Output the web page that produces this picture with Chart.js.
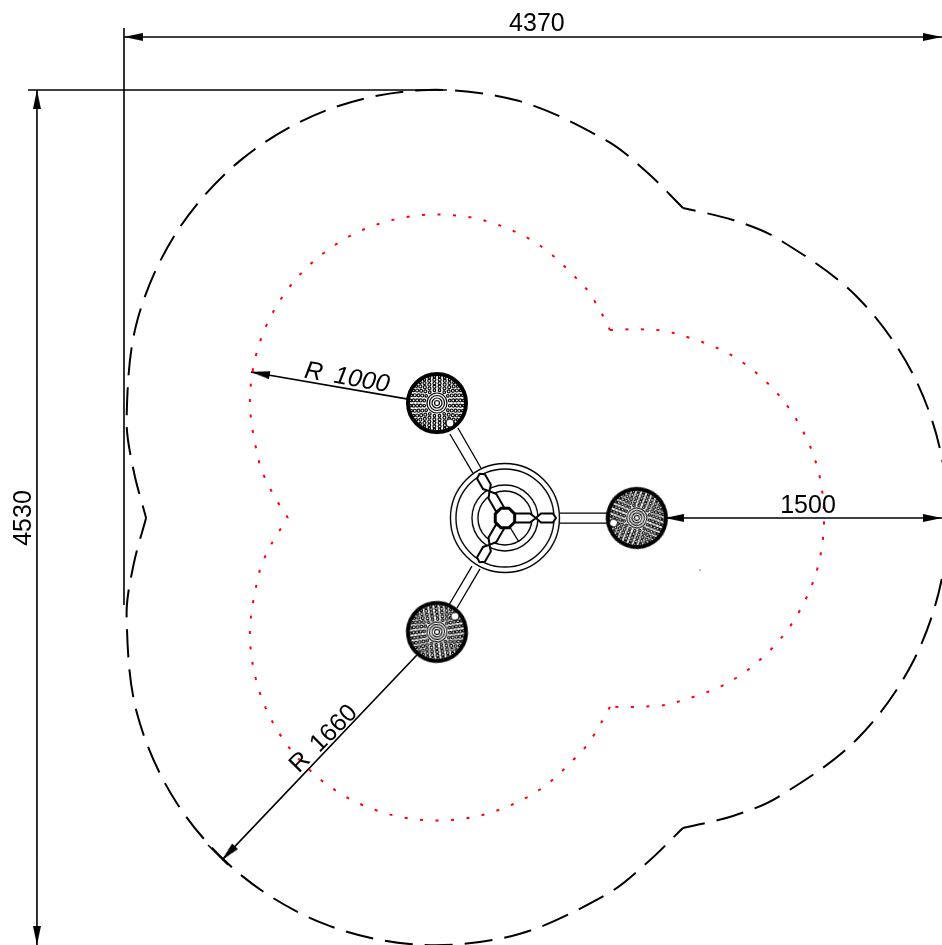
<!DOCTYPE html>
<html>
<head>
<meta charset="utf-8">
<title>Plano</title>
<script src="https://cdn.jsdelivr.net/npm/chart.js@4"></script>
<style>
  html, body { margin: 0; padding: 0; background: #fff; overflow: hidden; }
  canvas { display: block; }
</style>
</head>
<body>
<canvas id="plano" width="942" height="945"></canvas>
<script>
// All values in mm

// Outer limit (R 1660), one arc per head
const outerArcAX = [118, 51, 14, 69, 280, 627, 1077, 1585, 2102, 2576, 2791, 2986];
const outerArcAY = [2263, 2516, 2785, 3302, 3776, 4162, 4422, 4530, 4475, 4264, 4098, 3906];
const outerArcCX = [2986, 3253, 3494, 3914, 4219, 4380, 4380, 4219, 3914, 3494, 3253, 2986];
const outerArcCY = [3906, 3842, 3742, 3437, 3017, 2523, 2003, 1509, 1089, 784, 684, 620];
const outerArcBX = [2986, 2791, 2576, 2102, 1585, 1077, 627, 280, 69, 14, 51, 118];
const outerArcBY = [620, 433, 267, 56, 1, 109, 369, 755, 1229, 1746, 2015, 2263];

// Inner limit (R 1000)
const innerArcAX = [876, 789, 721, 673, 745, 929, 1203, 1533, 1880, 2202, 2460, 2538, 2596];
const innerArcAY = [2263, 2403, 2563, 2907, 3247, 3541, 3755, 3862, 3850, 3720, 3488, 3372, 3259];
const innerArcCX = [2596, 2764, 2931, 3255, 3517, 3686, 3740, 3686, 3517, 3255, 2931, 2764, 2596];
const innerArcCY = [3259, 3263, 3245, 3120, 2892, 2589, 2263, 1937, 1634, 1406, 1281, 1263, 1262];
const innerArcBX = [2596, 2538, 2460, 2202, 1880, 1533, 1203, 929, 745, 673, 721, 789, 876];
const innerArcBY = [1262, 1159, 1043, 811, 681, 669, 776, 990, 1284, 1624, 1968, 2128, 2263];

// Dimension and extension lines, null breaks the line
const dimLinesX = [0, 4370, null, -465, -465, null, 2890, 4370, null, 1517, 678, null, 1565, 523, null, 449, 556];
const dimLinesY = [4812, 4812, null, 4531, 0, null, 2263, 2263, null, 2893, 3037, null, 1537, 450, null, 530, 424];
const extLinesX = [-513, 1725, null, 0, 0];
const extLinesY = [4531, 4531, null, 4860, 1802];

// Arrow tips, same order as arrowAngles
const arrowTipsX = [0, 4370, -465, -465, 2890, 4370, 678, 523];
const arrowTipsY = [4812, 4812, 4531, 0, 2263, 2263, 3037, 450];

// Arms from the hub to the heads
const armLinesX = [2329, 2580, null, 2329, 2580, null, 1741, 1864, null, 1784, 1907, null, 1736, 1859, null, 1779, 1902];
const armLinesY = [2289, 2289, null, 2236, 2236, null, 2708, 2501, null, 2740, 2528, null, 1802, 2008, null, 1786, 1993];

const headsX = [1672, 1672, 2740];
const headsY = [2872, 1659, 2263];
const hubX = [2035];
const hubY = [2263];
const speckX = [3077];
const speckY = [1987];

// Texts
const labelTexts = ['4370', '4530', '1500', 'R 1000', 'R 1660'];
const labelsX = [2206, -534, 3654, 1191, 1068];
const labelsY = [4878, 2263, 2327, 3005, 1092];

const arrowAngles = [180, 0, -90, 90, 180, 0, 189.8, 133.6];
const headAngles = [0, -98, 111];
const labelAngles = [0, -90, 0, 10, -45];
const labelFonts = ['25px', '25px', '25px', 'italic 25px', '25px'];
const labelWordGaps = ['0px', '0px', '0px', '5px', '4px'];

function puntos(xs, ys) {
    return xs.map((x, i) => ({ x: x, y: ys[i] }));
}

function linea(xs, ys, color, width, dash, tension, dashOffset) {
    return {
        data: puntos(xs, ys),
        showLine: true,
        borderColor: color,
        borderWidth: width,
        borderDash: dash,
        borderDashOffset: dashOffset || 0,
        tension: tension,
        capBezierPoints: false,
        pointRadius: 0,
        order: 1,
    };
}

function marcas(xs, ys, style, rotation) {
    return {
        data: puntos(xs, ys),
        showLine: false,
        pointStyle: style,
        pointRadius: 30,
        pointRotation: rotation,
        clip: false,
        order: 0,
    };
}

// Arrow glyph: the tip sits on the centre of the canvas
function crearFlecha() {
    const c = document.createElement('canvas');
    c.width = 44;
    c.height = 12;
    const ctx = c.getContext('2d');
    ctx.fillStyle = '#000';
    ctx.beginPath();
    ctx.moveTo(22, 6);
    ctx.lineTo(3, 2);
    ctx.lineTo(3, 10);
    ctx.closePath();
    ctx.fill();
    return c;
}

// Shower head glyph: thick rim, perforation rings and one bigger hole
function crearCabeza() {
    const c = document.createElement('canvas');
    c.width = 70;
    c.height = 70;
    const ctx = c.getContext('2d');
    ctx.translate(35, 35);
    ctx.fillStyle = '#fff';
    ctx.strokeStyle = '#000';
    ctx.beginPath();
    ctx.arc(0, 0, 29, 0, Math.PI * 2);
    ctx.fill();
    ctx.lineWidth = 4;
    ctx.stroke();
    ctx.lineWidth = 1.2;
    [2.5, 5, 7.5, 10].forEach(r => {
        ctx.beginPath();
        ctx.arc(0, 0, r, 0, Math.PI * 2);
        ctx.stroke();
    });
    ctx.lineWidth = 1.2;
    [[13, 16, 1.3], [16.5, 20, 1.5], [20, 24, 1.5], [23.5, 28, 1.5], [26.5, 32, 1.2]].forEach(anillo => {
        for (let i = 0; i < anillo[1]; i++) {
            const a = (i + 0.5) * Math.PI * 2 / anillo[1];
            ctx.beginPath();
            ctx.arc(anillo[0] * Math.cos(a), anillo[0] * Math.sin(a), anillo[2], 0, Math.PI * 2);
            ctx.stroke();
        }
    });
    ctx.beginPath();
    ctx.arc(13, 20, 4, 0, Math.PI * 2);
    ctx.fill();
    ctx.stroke();
    return c;
}

// Hub glyph: rings, three blades and the centre post
function crearCubo() {
    const c = document.createElement('canvas');
    c.width = 120;
    c.height = 120;
    const ctx = c.getContext('2d');
    ctx.translate(60, 60);
    ctx.strokeStyle = '#000';
    ctx.fillStyle = '#fff';
    ctx.lineWidth = 1.4;
    [54.5, 49, 33, 27].forEach(r => {
        ctx.beginPath();
        ctx.arc(0, 0, r, 0, Math.PI * 2);
        ctx.stroke();
    });
    const hoja = [[10, -4.5], [25, -4.5], [31, 0], [36, -4.5], [48, -4.5], [51, 0], [48, 4.5], [36, 4.5], [31, 0], [25, 4.5], [10, 4.5]];
    [0, -120, 120].forEach(giro => {
        ctx.save();
        ctx.rotate(giro * Math.PI / 180);
        ctx.beginPath();
        hoja.forEach((p, i) => (i ? ctx.lineTo(p[0], p[1]) : ctx.moveTo(p[0], p[1])));
        ctx.closePath();
        ctx.fill();
        ctx.lineWidth = 2;
        ctx.stroke();
        ctx.restore();
    });
    ctx.lineWidth = 1.4;
    ctx.beginPath();
    ctx.moveTo(5.5, 10);
    ctx.lineTo(14, 24);
    ctx.stroke();
    ctx.beginPath();
    for (let i = 0; i < 8; i++) {
        const a = (i + 0.5) * Math.PI / 4;
        const px = 10.5 * Math.cos(a);
        const py = 10.5 * Math.sin(a);
        if (i) ctx.lineTo(px, py); else ctx.moveTo(px, py);
    }
    ctx.closePath();
    ctx.fill();
    ctx.lineWidth = 3;
    ctx.stroke();
    return c;
}

// Writes the dimension texts through the chart scales
const rotulos = {
    id: 'rotulos',
    afterDatasetsDraw(chart) {
        const ctx = chart.ctx;
        labelTexts.forEach((texto, i) => {
            ctx.save();
            ctx.translate(chart.scales.x.getPixelForValue(labelsX[i]), chart.scales.y.getPixelForValue(labelsY[i]));
            ctx.rotate(labelAngles[i] * Math.PI / 180);
            ctx.font = labelFonts[i] + ' "Liberation Sans", Arial, sans-serif';
            ctx.wordSpacing = labelWordGaps[i];
            ctx.fillStyle = '#000';
            ctx.textAlign = 'center';
            ctx.textBaseline = 'middle';
            ctx.fillText(texto, 0, 0);
            ctx.restore();
        });
    },
};

const flecha = crearFlecha();
const cabeza = crearCabeza();
const cubo = crearCubo();

new Chart(document.getElementById('plano'), {
    type: 'scatter',
    data: {
        datasets: [
            linea(outerArcAX, outerArcAY, '#000', 2, [28, 12], 0.33, 15),
            linea(outerArcCX, outerArcCY, '#000', 2, [28, 12], 0.33, 15),
            linea(outerArcBX, outerArcBY, '#000', 2, [28, 12], 0.33, 15),
            linea(innerArcAX, innerArcAY, '#f00', 2, [3, 12.5], 0.33),
            linea(innerArcCX, innerArcCY, '#f00', 2, [3, 12.5], 0.33),
            linea(innerArcBX, innerArcBY, '#f00', 2, [3, 12.5], 0.33),
            linea(dimLinesX, dimLinesY, '#000', 1.6, [], 0),
            linea(extLinesX, extLinesY, '#000', 1.6, [], 0),
            linea(armLinesX, armLinesY, '#000', 1.3, [], 0),
            marcas(arrowTipsX, arrowTipsY, flecha, arrowAngles),
            marcas(headsX, headsY, cabeza, headAngles),
            marcas(hubX, hubY, cubo, 0),
            { data: puntos(speckX, speckY), pointRadius: 0.6, backgroundColor: '#000', borderWidth: 0, order: 0 },
        ],
    },
    options: {
        responsive: false,
        animation: false,
        layout: { padding: 0, autoPadding: false },
        plugins: {
            legend: { display: false },
            tooltip: { enabled: false },
        },
        scales: {
            x: { type: 'linear', display: false, min: -662.4, max: 4370 },
            y: { type: 'linear', display: false, min: 0, max: 5008 },
        },
    },
    plugins: [rotulos],
});
</script>
</body>
</html>
